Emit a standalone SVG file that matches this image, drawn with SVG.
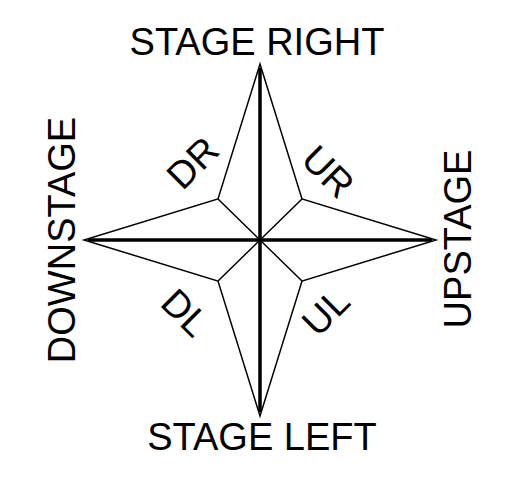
<svg xmlns="http://www.w3.org/2000/svg" width="509" height="481" viewBox="0 0 509 481">
<style>
.lbl{font-family:"Liberation Sans",Arial,sans-serif;font-size:38px;fill:#000;text-anchor:middle}
.thin{fill:none;stroke:#000;stroke-width:1.5;stroke-linejoin:miter;stroke-miterlimit:20}
.thick{fill:none;stroke:#000;stroke-width:3.5}
</style>
<rect width="509" height="481" fill="#fff"/>
<g id="connectors">
<polygon class="thin" points="260,64 302,199 436,240 302,281 260,416 218,281 84,240 218,199"/>
<path class="thin" d="M218,199 L302,281 M302,199 L218,281"/>
<path class="thick" d="M260,68 L260,412 M88,240 L432,240"/>
</g>
<g id="stage-right"><text class="lbl" x="257" y="55">STAGE RIGHT</text></g>
<g id="stage-left"><text class="lbl" x="262" y="450">STAGE LEFT</text></g>
<g id="downstage"><text class="lbl" transform="translate(75,240) rotate(-90)">DOWNSTAGE</text></g>
<g id="upstage"><text class="lbl" transform="translate(471,239) rotate(-90)">UPSTAGE</text></g>
<g id="dr"><text class="lbl" transform="translate(202,172) rotate(-45)">DR</text></g>
<g id="ur"><text class="lbl" transform="translate(319,181) rotate(45)">UR</text></g>
<g id="dl"><text class="lbl" transform="translate(176,322) rotate(45)">DL</text></g>
<g id="ul"><text class="lbl" transform="translate(335,321) rotate(-45)">UL</text></g>
</svg>
